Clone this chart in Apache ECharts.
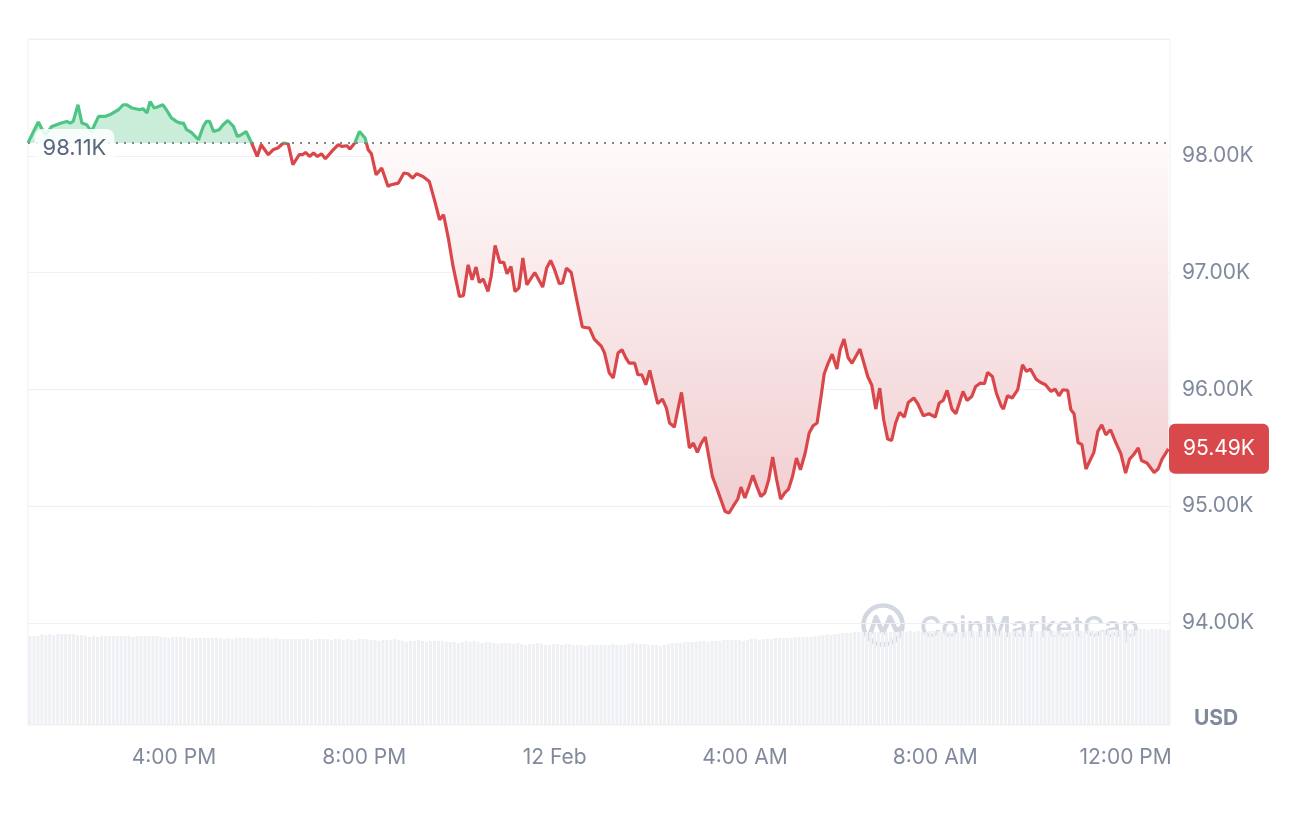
<!DOCTYPE html>
<html><head><meta charset="utf-8">
<script src="https://cdn.jsdelivr.net/npm/echarts@6/dist/echarts.min.js"></script>
<style>html,body{margin:0;padding:0;background:#fff}#c{width:1290px;height:815px}</style>
</head><body><div id="c"></div>
<script>
// time in minutes from 11 Feb 00:00
const minutes = [
776,783,789,793,798,806,818,825,829,833,839,844,850,856,865,873,879,890,896,900,
907,913,917,921,926,930,935,939,946,951,957,963,968,972,976,982,991,997,1001,1005,
1010,1017,1022,1028,1035,1040,1045,1051,1058,1065,1070,1079,1085,1091,1098,1104,1110,1118,1122,1126,
1131,1136,1141,1146,1151,1159,1167,1172,1178,1182,1188,1194,1201,1205,1209,1215,1222,1230,1234,1243,
1250,1255,1261,1266,1274,1282,1289,1295,1300,1306,1312,1320,1325,1331,1336,1341,1345,1350,1356,1360,
1365,1371,1376,1380,1385,1390,1395,1400,1405,1415,1425,1430,1435,1440,1446,1450,1455,1461,1467,1475,
1484,1490,1499,1503,1509,1514,1520,1525,1530,1534,1541,1545,1550,1555,1560,1570,1576,1581,1585,1591,
1595,1600,1610,1615,1620,1625,1630,1639,1646,1655,1660,1665,1671,1675,1680,1685,1690,1695,1700,1705,
1710,1715,1720,1725,1730,1735,1740,1745,1750,1756,1761,1766,1771,1776,1780,1785,1790,1796,1800,1805,
1810,1815,1825,1835,1840,1845,1850,1855,1860,1865,1870,1875,1881,1886,1893,1898,1905,1912,1920,1925,
1930,1935,1941,1946,1955,1960,1966,1971,1977,1982,1986,1992,1997,2003,2006,2011,2017,2024,2030,2035,
2040,2047,2053,2059,2066,2071,2076,2081,2087,2091,2095,2100,2105,2110,2120,2125,2130,2135,2141,2147,
2154,2160,2165,2170,2176,2180,2187,2196,2201,2206,2214
];
const prices = [
98110,98208,98289,98237,98180,98251,98280,98294,98280,98294,98437,98280,98266,98208,98337,98337,98351,98394,98437,98437,
98409,98400,98394,98403,98366,98465,98409,98417,98437,98388,98323,98294,98280,98280,98223,98200,98137,98251,98294,98294,
98208,98223,98266,98302,98251,98165,98180,98208,98109,97994,98094,98009,98051,98066,98109,98103,97923,98009,98009,98028,
97994,98023,97994,98017,97974,98037,98094,98080,98086,98057,98109,98208,98152,98051,98017,97837,97895,97737,97752,97766,
97852,97846,97809,97846,97823,97780,97609,97452,97495,97295,97052,96795,96801,97066,96938,97047,96915,96944,96838,96966,
97232,97086,97086,96989,97052,96838,96867,97124,96895,97000,96875,97038,97103,97024,96904,96910,97038,97000,96795,96533,
96524,96430,96367,96310,96139,96096,96310,96338,96267,96224,96224,96124,96124,96039,96161,95876,95916,95839,95711,95676,
95810,95973,95496,95539,95459,95539,95591,95253,95125,94953,94940,94996,95060,95162,95068,95162,95262,95168,95082,95111,
95225,95419,95225,95060,95111,95145,95253,95411,95311,95454,95625,95687,95711,95938,96133,96224,96300,96173,96338,96430,
96272,96223,96344,96107,96034,95830,96010,95739,95573,95562,95711,95801,95762,95887,95925,95876,95773,95790,95762,95882,
95904,95990,95830,95790,95981,95904,95938,96024,96053,96047,96144,96110,95968,95859,95830,95944,95925,95996,96210,96153,
96173,96087,96058,96039,95981,96002,95944,95996,95990,95825,95790,95544,95525,95317,95459,95639,95696,95610,95653,95553,
95448,95282,95402,95439,95497,95390,95368,95287,95317,95402,95490
];
const openPrice = 98110;
const lastPrice = 95490;
// volume bars, one per 5 minutes, starting at volStart
const volStart = 776;
const volStep = 5;
const volumes = [
89,89,89,91,90,91,90,91,91,91,91,91,90,90,89,88,89,88,89,89,89,89,89,89,
89,89,88,89,89,89,89,89,89,88,88,87,88,88,88,88,87,87,87,87,87,87,87,87,
87,86,87,86,87,87,87,87,87,86,87,87,87,86,87,86,86,86,86,86,86,86,86,85,
86,86,86,86,85,86,86,85,86,85,85,86,86,86,85,85,84,85,85,85,86,85,84,83,
84,84,85,84,83,84,84,84,84,83,83,83,82,83,84,83,84,83,82,83,83,82,81,82,
82,82,81,82,81,80,81,81,82,81,80,80,81,81,80,81,81,80,80,80,79,80,80,80,
80,80,80,81,80,80,80,81,82,81,81,81,80,80,80,79,80,81,82,82,82,83,83,83,
83,84,84,83,84,84,84,85,85,85,85,85,84,85,86,86,85,86,86,86,87,87,87,87,
87,88,88,88,88,88,89,89,90,91,90,91,91,92,92,92,93,93,93,93,93,93,93,93,
93,93,93,93,94,93,94,93,94,93,93,94,94,94,93,94,94,93,93,93,94,94,94,93,
94,94,93,94,94,94,93,93,94,94,94,94,95,94,94,94,95,94,94,94,94,93,94,94,
94,94,94,95,95,94,95,95,95,94,95,95,95,95,96,95,96,96,95,96,96,96,95,95
];
const xTickMinutes = [960, 1200, 1440, 1680, 1920, 2160];
const xTickLabels = ['4:00 PM', '8:00 PM', '12 Feb', '4:00 AM', '8:00 AM', '12:00 PM'];
const X_MIN = 776, X_MAX = 2216;
const Y_MIN = 94000, Y_MAX = 99000, Y_STEP = 1000;

const FONT = 'Inter, "Noto Sans", sans-serif';
const GREEN = '#4ec585', RED = '#d9474b';
const fmtK = v => (v / 1000).toFixed(2) + 'K';

const chart = echarts.init(document.getElementById('c'));
const priceData = minutes.map((m, i) => [m, prices[i]]);
const volData = volumes.map((v, i) => [volStart + i * volStep + volStep / 2, v]);

const option = {
  animation: false,
  grid: [
    { left: 28, right: 120, top: 39, height: 583.75 },
    { left: 28, right: 120, top: 39, bottom: 90, show: true, borderColor: '#eef0f3', borderWidth: 1 }
  ],
  xAxis: [
    { gridIndex: 0, type: 'value', min: X_MIN, max: X_MAX, show: false },
    { gridIndex: 1, type: 'value', min: X_MIN, max: X_MAX,
      axisLine: { show: false }, axisTick: { show: false }, splitLine: { show: false },
      axisLabel: { customValues: xTickMinutes, formatter: v => xTickLabels[xTickMinutes.indexOf(v)],
        margin: 22, color: '#808a9d', fontSize: 21, fontFamily: FONT } }
  ],
  yAxis: [
    { gridIndex: 0, type: 'value', position: 'right', min: Y_MIN, max: Y_MAX, interval: Y_STEP,
      axisLine: { show: false }, axisTick: { show: false },
      splitLine: { lineStyle: { color: '#eef0f3', width: 1 } },
      axisLabel: { showMaxLabel: false, margin: 12, formatter: fmtK, color: '#808a9d', fontSize: 21, fontFamily: FONT } },
    { gridIndex: 1, type: 'value', min: 0, max: 686, show: false }
  ],
  visualMap: {
    show: false, type: 'piecewise', seriesIndex: 1, dimension: 1,
    pieces: [ { gt: openPrice, lte: 200000, color: GREEN }, { gt: 0, lte: openPrice, color: RED } ]
  },
  series: [
    { type: 'bar', xAxisIndex: 1, yAxisIndex: 1, data: volData, barWidth: 3,
      itemStyle: { color: '#eef0f4' }, silent: true, z: 1 },
    { type: 'line', xAxisIndex: 0, yAxisIndex: 0, data: priceData, showSymbol: false, z: 3,
      lineStyle: { width: 3.2 },
      areaStyle: { origin: openPrice, opacity: 1, color: '#f5dfe0' },
      markLine: {
        silent: true, symbol: ['none', 'none'], z: 4,
        data: [
          { yAxis: openPrice, lineStyle: { color: '#7f8795', type: [2, 6], width: 2 }, label: { show: false } },
          { yAxis: lastPrice, lineStyle: { color: 'rgba(0,0,0,0)', width: 0 },
            label: { show: true, position: 'end', distance: -1, formatter: () => fmtK(lastPrice),
              backgroundColor: '#d9484b', color: '#fff', padding: [15, 14, 14, 14], borderRadius: 6,
              fontSize: 21, fontFamily: FONT } }
        ]
      },
      markPoint: {
        silent: true,
        data: [ { coord: [X_MIN, openPrice], symbol: 'circle', symbolSize: 1, itemStyle: { color: 'rgba(0,0,0,0)' },
          label: { show: true, position: 'right', distance: 6, offset: [0, 5], formatter: () => fmtK(openPrice),
            backgroundColor: 'rgba(255,255,255,0.85)', borderRadius: 8, padding: [8, 8, 8, 8],
            color: '#58667e', fontSize: 22, fontFamily: FONT } } ]
      }
    }
  ],
  graphic: [
    { type: 'text', left: 1194, top: 708, z: 10,
      style: { text: 'USD', fill: '#808a9d', font: '700 21px ' + FONT } },
    { type: 'group', z: 10, children: [
      { type: 'circle', shape: { cx: 883, cy: 625, r: 19.5 }, style: { fill: 'none', stroke: '#d2d7e1', lineWidth: 4.5 } },
      { type: 'polyline', shape: { points: [[869, 637], [876, 617], [883, 633], [890, 617], [896, 630], [902, 628]] },
        style: { stroke: '#d2d7e1', lineWidth: 4.5, fill: 'none', lineJoin: 'round', lineCap: 'round' } },
      { type: 'text', x: 920, y: 628, style: { text: 'CoinMarketCap', fill: '#d2d7e1', font: '600 29px ' + FONT, textVerticalAlign: 'middle' } }
    ] }
  ]
};
chart.setOption(option);

// area colour: green above the opening price, red gradient below it
const topY = chart.convertToPixel({ gridIndex: 0 }, [X_MIN, Y_MAX])[1];
const botY = chart.convertToPixel({ gridIndex: 0 }, [X_MIN, Y_MIN])[1];
const baseY = chart.convertToPixel({ gridIndex: 0 }, [X_MIN, openPrice])[1];
const lowY = chart.convertToPixel({ gridIndex: 0 }, [X_MIN, Math.min.apply(null, prices)])[1];
const off = y => (y - topY) / (botY - topY);
const grad = new echarts.graphic.LinearGradient(0, topY, 0, botY, [
  { offset: 0, color: '#c9edd9' },
  { offset: off(baseY), color: '#c9edd9' },
  { offset: off(baseY) + 0.0005, color: '#fefafa' },
  { offset: off(lowY), color: '#f1ced1' },
  { offset: 1, color: '#efc8cb' }
], true);
chart.setOption({ series: [{}, { areaStyle: { origin: openPrice, opacity: 1, color: grad } }] });
</script>
</body></html>
